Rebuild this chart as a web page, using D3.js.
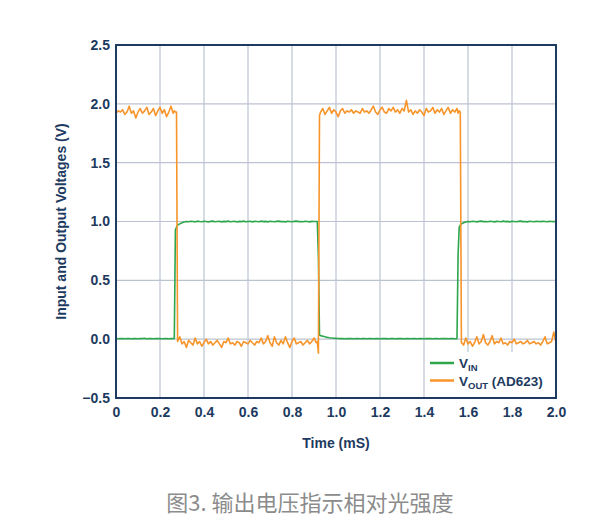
<!DOCTYPE html>
<html>
<head>
<meta charset="utf-8">
<script src="https://cdn.jsdelivr.net/npm/d3@7"></script>
<style>
  html, body { margin: 0; padding: 0; background: #ffffff; }
  svg { display: block; }
</style>
</head>
<body>
<svg id="chart" width="605" height="528"></svg>
<script>
// ---------------- DATA ----------------
const xTicks = [0, 0.2, 0.4, 0.6, 0.8, 1.0, 1.2, 1.4, 1.6, 1.8, 2.0];
const xTickLabels = ["0", "0.2", "0.4", "0.6", "0.8", "1.0", "1.2", "1.4", "1.6", "1.8", "2.0"];
const yTicks = [-0.5, 0, 0.5, 1.0, 1.5, 2.0, 2.5];
const yTickLabels = ["\u22120.5", "0.0", "0.5", "1.0", "1.5", "2.0", "2.5"];

const xTitle = "Time (mS)";
const yTitle = "Input and Output Voltages (V)";
const caption = "图3. 输出电压指示相对光强度";

const seriesNames = [
  { main: "V", sub: "IN", rest: "" },
  { main: "V", sub: "OUT", rest: " (AD623)" }
];

// time stamps (ms)
const timeMs = [
  0.00,0.01,0.02,0.03,0.04,0.05,0.06,0.07,0.08,0.09,
  0.10,0.11,0.12,0.13,0.14,0.15,0.16,0.17,0.18,0.19,
  0.20,0.21,0.22,0.23,0.24,0.25,0.26,0.265,0.27,0.275,0.28,0.29,
  0.30,0.31,0.32,0.33,0.34,0.35,0.36,0.37,0.38,0.39,
  0.40,0.41,0.42,0.43,0.44,0.45,0.46,0.47,0.48,0.49,
  0.50,0.51,0.52,0.53,0.54,0.55,0.56,0.57,0.58,0.59,
  0.60,0.61,0.62,0.63,0.64,0.65,0.66,0.67,0.68,0.69,
  0.70,0.71,0.72,0.73,0.74,0.75,0.76,0.77,0.78,0.79,
  0.80,0.81,0.82,0.83,0.84,0.85,0.86,0.87,0.88,0.89,
  0.90,0.91,0.915,0.92,0.925,0.93,0.94,0.95,0.96,0.97,0.98,0.99,
  1.00,1.01,1.02,1.03,1.04,1.05,1.06,1.07,1.08,1.09,
  1.10,1.11,1.12,1.13,1.14,1.15,1.16,1.17,1.18,1.19,
  1.20,1.21,1.22,1.23,1.24,1.25,1.26,1.27,1.28,1.29,
  1.30,1.31,1.32,1.33,1.34,1.35,1.36,1.37,1.38,1.39,
  1.40,1.41,1.42,1.43,1.44,1.45,1.46,1.47,1.48,1.49,
  1.50,1.51,1.52,1.53,1.54,1.55,1.555,1.56,1.565,1.57,1.58,1.59,
  1.60,1.61,1.62,1.63,1.64,1.65,1.66,1.67,1.68,1.69,
  1.70,1.71,1.72,1.73,1.74,1.75,1.76,1.77,1.78,1.79,
  1.80,1.81,1.82,1.83,1.84,1.85,1.86,1.87,1.88,1.89,
  1.90,1.91,1.92,1.93,1.94,1.95,1.96,1.97,1.98,1.99,
  2.00
];

// V_IN (green)
const vIn = [
  0.005,0.004,0.006,0.005,0.003,0.006,0.005,0.004,0.006,0.005,
  0.004,0.006,0.005,0.007,0.004,0.005,0.006,0.004,0.005,0.006,
  0.005,0.004,0.006,0.005,0.004,0.006,0.005,0.006,0.93,0.95,0.97,0.98,
  0.99,0.995,1.000,0.998,1.002,1.000,0.997,1.003,1.000,0.998,
  1.002,1.000,0.996,1.001,1.003,0.998,1.000,1.002,0.997,1.001,
  0.999,1.003,0.998,1.000,1.002,0.996,1.001,0.999,1.003,0.998,
  1.000,1.002,0.997,1.001,1.000,0.998,1.003,0.999,1.001,0.997,
  1.002,1.000,0.998,1.001,1.003,0.999,1.000,0.997,1.002,1.000,
  0.998,1.001,1.003,0.999,1.000,0.998,1.002,1.000,0.997,1.001,
  1.000,1.000,1.000,0.70,0.035,0.030,0.025,0.020,0.015,0.012,0.010,0.008,
  0.007,0.006,0.005,0.006,0.004,0.005,0.006,0.005,0.004,0.006,
  0.005,0.004,0.006,0.005,0.003,0.005,0.006,0.004,0.005,0.006,
  0.004,0.005,0.006,0.005,0.004,0.006,0.005,0.003,0.005,0.006,
  0.005,0.004,0.006,0.005,0.004,0.006,0.005,0.004,0.005,0.006,
  0.004,0.005,0.006,0.005,0.003,0.005,0.006,0.004,0.005,0.006,
  0.005,0.004,0.006,0.005,0.004,0.005,0.72,0.95,0.97,0.98,0.99,0.995,
  1.000,0.998,1.002,1.000,0.997,1.001,1.003,0.999,1.000,0.998,
  1.002,1.000,0.997,1.001,1.000,0.998,1.003,0.999,1.001,0.997,
  1.002,1.000,0.998,1.001,1.003,0.999,1.000,0.997,1.002,1.000,
  0.998,1.001,1.000,0.999,1.002,1.000,0.998,1.001,1.000,0.999,
  1.000
];

// V_OUT (AD623, orange)
const vOut = [
  1.92,1.94,1.93,1.95,1.91,1.93,1.98,1.92,1.94,1.88,
  1.93,1.96,1.92,1.94,1.97,1.91,1.93,1.96,1.90,1.94,
  1.97,1.92,1.95,1.89,1.93,1.98,1.92,1.94,1.93,1.93,-0.02,0.02,
  -0.04,-0.02,-0.07,-0.01,-0.03,-0.05,0.01,-0.04,-0.02,-0.06,
  -0.03,0.00,-0.04,-0.02,-0.05,-0.03,-0.01,-0.04,-0.07,-0.02,
  -0.03,0.01,-0.04,-0.03,-0.05,-0.02,-0.03,-0.06,-0.02,-0.03,
  -0.04,-0.01,-0.03,-0.05,-0.02,-0.03,0.01,-0.04,-0.02,0.03,
  -0.03,-0.06,0.02,-0.03,-0.05,-0.01,-0.04,0.02,-0.03,-0.07,
  -0.02,0.01,-0.04,-0.03,-0.02,-0.05,-0.03,-0.01,-0.04,-0.02,
  0.01,-0.03,-0.02,-0.12,1.90,1.93,1.96,1.91,1.94,1.97,1.92,1.95,
  1.93,1.89,1.94,1.96,1.92,1.94,1.93,1.95,1.92,1.94,
  1.93,1.92,1.96,1.93,1.94,1.92,1.95,1.98,1.93,1.91,
  1.95,1.97,1.93,1.92,1.96,1.94,1.97,1.93,1.95,1.92,
  1.96,1.94,2.03,1.93,1.95,1.91,1.94,1.92,1.95,1.93,
  1.90,1.96,1.93,1.94,1.97,1.92,1.95,1.93,1.96,1.91,
  1.94,1.97,1.92,1.95,1.93,1.96,1.92,1.94,1.93,-0.03,-0.05,0.01,
  -0.04,-0.02,-0.06,-0.03,0.02,-0.04,-0.02,0.04,-0.03,-0.05,
  -0.02,0.03,-0.04,-0.02,-0.03,0.01,-0.04,-0.03,-0.05,-0.02,
  -0.03,0.00,-0.04,-0.03,-0.02,-0.04,-0.03,-0.01,-0.04,-0.03,
  -0.02,-0.04,-0.03,-0.05,-0.02,0.02,-0.04,-0.03,-0.02,0.06,
  -0.03
];

// ---------------- STYLE ----------------
const navy = "#1d3a60";
const gridColor = "#bcc3d0";
const greenColor = "#2ea64c";
const orangeColor = "#f7942a";
const fontFamily = "'Liberation Sans', Arial, Helvetica, sans-serif";

// ---------------- CHART ----------------
const svg = d3.select("#chart");
const plot = { left: 116, right: 556, top: 45, bottom: 398 };

const x = d3.scaleLinear().domain([0, 2.0]).range([plot.left, plot.right]);
const y = d3.scaleLinear().domain([-0.5, 2.5]).range([plot.bottom, plot.top]);

// grid
const grid = svg.append("g");
grid.selectAll("line.vg").data(xTicks.slice(1, -1)).enter().append("line")
  .attr("x1", d => x(d)).attr("x2", d => x(d))
  .attr("y1", plot.top).attr("y2", plot.bottom)
  .attr("stroke", gridColor).attr("stroke-width", 1.2);
grid.selectAll("line.hg").data(yTicks.slice(1, -1)).enter().append("line")
  .attr("x1", plot.left).attr("x2", plot.right)
  .attr("y1", d => y(d)).attr("y2", d => y(d))
  .attr("stroke", gridColor).attr("stroke-width", 1.2);

// series
const greenData = timeMs.map((t, i) => [t, vIn[i]]);
const orangeData = timeMs.map((t, i) => [t, vOut[i]]);
const line = d3.line().x(d => x(d[0])).y(d => y(d[1]));

svg.append("path").datum(greenData)
  .attr("d", line).attr("fill", "none")
  .attr("stroke", greenColor).attr("stroke-width", 1.6)
  .attr("stroke-linejoin", "round");
svg.append("path").datum(orangeData)
  .attr("d", line).attr("fill", "none")
  .attr("stroke", orangeColor).attr("stroke-width", 1.6)
  .attr("stroke-linejoin", "round");

// legend box (white background)
const legend = svg.append("g");
legend.append("rect")
  .attr("x", x(1.41)).attr("y", 352)
  .attr("width", plot.right - x(1.41) - 1).attr("height", plot.bottom - 352 - 1)
  .attr("fill", "#ffffff");
const legendColors = [greenColor, orangeColor];
seriesNames.forEach((s, i) => {
  const ly = 363 + i * 17.5;
  legend.append("line")
    .attr("x1", 430).attr("x2", 454).attr("y1", ly).attr("y2", ly)
    .attr("stroke", legendColors[i]).attr("stroke-width", 2.5);
  const t = legend.append("text")
    .attr("x", 459).attr("y", ly + 5)
    .attr("font-family", fontFamily).attr("font-weight", "bold")
    .attr("font-size", 13.5).attr("fill", navy);
  t.append("tspan").text(s.main);
  t.append("tspan").attr("dy", 3).attr("font-size", 9.5).text(s.sub);
  if (s.rest) t.append("tspan").attr("dy", -3).text(s.rest);
});

// axes (labels only, no tick marks)
const xAxis = d3.axisBottom(x).tickValues(xTicks)
  .tickFormat((d, i) => xTickLabels[i]).tickSize(0).tickPadding(9);
const gx = svg.append("g").attr("transform", `translate(0,${plot.bottom})`).call(xAxis);
gx.select(".domain").remove();
gx.selectAll("text").attr("font-family", fontFamily).attr("font-weight", "bold")
  .attr("font-size", 14).attr("fill", navy);

const yAxis = d3.axisLeft(y).tickValues(yTicks)
  .tickFormat((d, i) => yTickLabels[i]).tickSize(0).tickPadding(6);
const gy = svg.append("g").attr("transform", `translate(${plot.left},0)`).call(yAxis);
gy.select(".domain").remove();
gy.selectAll("text").attr("font-family", fontFamily).attr("font-weight", "bold")
  .attr("font-size", 14).attr("fill", navy);

// frame
svg.append("rect")
  .attr("x", plot.left).attr("y", plot.top)
  .attr("width", plot.right - plot.left).attr("height", plot.bottom - plot.top)
  .attr("fill", "none").attr("stroke", navy).attr("stroke-width", 2);

// titles
svg.append("text")
  .attr("x", (plot.left + plot.right) / 2).attr("y", 448)
  .attr("text-anchor", "middle")
  .attr("font-family", fontFamily).attr("font-weight", "bold")
  .attr("font-size", 14).attr("fill", navy)
  .text(xTitle);

svg.append("text")
  .attr("transform", `translate(66,${(plot.top + plot.bottom) / 2}) rotate(-90)`)
  .attr("text-anchor", "middle")
  .attr("font-family", fontFamily).attr("font-weight", "bold")
  .attr("font-size", 14).attr("fill", navy)
  .text(yTitle);

// caption
svg.append("text")
  .attr("x", 310).attr("y", 511)
  .attr("text-anchor", "middle")
  .attr("font-family", "'Noto Sans CJK SC', sans-serif")
  .attr("font-size", 22).attr("fill", "#8c8c8c")
  .text(caption);
</script>
</body>
</html>
